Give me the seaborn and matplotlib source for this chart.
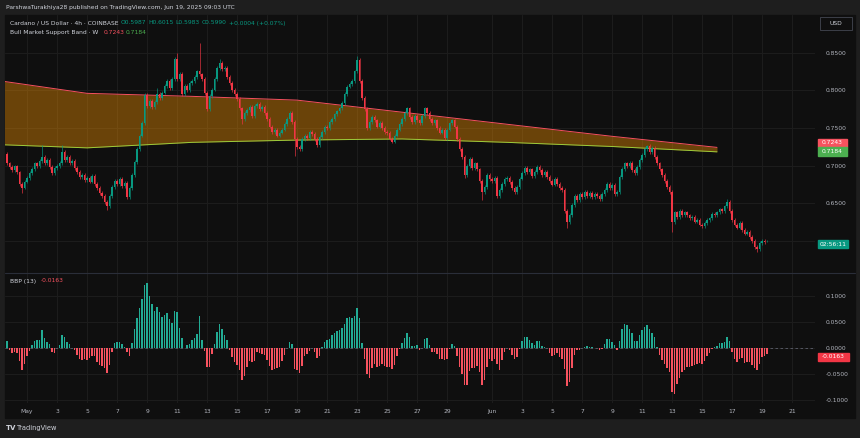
import matplotlib
matplotlib.use("Agg")
import matplotlib.pyplot as plt
import seaborn as sns
import pandas as pd
import numpy as np

# ADA/USD 4h candles (Coinbase), closes, one row per day
first_open = 0.716
closes = [
    0.703, 0.698,                                  # Apr 29 (16h, 20h)
    0.694, 0.699, 0.691, 0.676, 0.671, 0.679,      # Apr 30
    0.684, 0.690, 0.696, 0.703, 0.699, 0.706,      # May 1
    0.712, 0.703, 0.708, 0.698, 0.690, 0.697,
    0.700, 0.704, 0.718, 0.708, 0.712, 0.703,
    0.706, 0.697, 0.692, 0.685, 0.688, 0.681,
    0.684, 0.679, 0.687, 0.676, 0.670, 0.664,      # May 5
    0.660, 0.652, 0.647, 0.660, 0.672, 0.680,
    0.676, 0.682, 0.673, 0.677, 0.658, 0.670,
    0.688, 0.705, 0.722, 0.740, 0.757, 0.794,
    0.779, 0.786, 0.778, 0.784, 0.795, 0.790,
    0.797, 0.806, 0.812, 0.803, 0.815, 0.842,      # May 10
    0.815, 0.822, 0.795, 0.806, 0.800, 0.810,
    0.812, 0.818, 0.825, 0.821, 0.815, 0.796,
    0.775, 0.792, 0.801, 0.815, 0.830, 0.836,
    0.828, 0.830, 0.818, 0.810, 0.800, 0.795,
    0.788, 0.776, 0.762, 0.770, 0.774, 0.778,      # May 15
    0.766, 0.779, 0.782, 0.775, 0.778, 0.770,
    0.762, 0.752, 0.745, 0.748, 0.740, 0.744,
    0.748, 0.755, 0.762, 0.770, 0.758, 0.736,
    0.725, 0.722, 0.735, 0.740, 0.737, 0.745,
    0.742, 0.735, 0.727, 0.738, 0.745, 0.752,      # May 20
    0.750, 0.758, 0.762, 0.768, 0.772, 0.776,
    0.783, 0.795, 0.805, 0.808, 0.812, 0.825,
    0.840, 0.812, 0.790, 0.775, 0.750, 0.758,
    0.765, 0.760, 0.752, 0.757, 0.750, 0.745,
    0.743, 0.736, 0.732, 0.740, 0.748, 0.755,      # May 25
    0.762, 0.770, 0.776, 0.765, 0.758, 0.766,
    0.760, 0.756, 0.766, 0.776, 0.770, 0.762,
    0.756, 0.760, 0.750, 0.744, 0.748, 0.737,
    0.748, 0.756, 0.760, 0.752, 0.735, 0.722,
    0.712, 0.688, 0.700, 0.709, 0.697, 0.703,      # May 30
    0.695, 0.680, 0.665, 0.672, 0.688, 0.682,
    0.680, 0.684, 0.660, 0.668, 0.676, 0.682,      # Jun 1
    0.684, 0.678, 0.670, 0.665, 0.672, 0.683,
    0.690, 0.697, 0.692, 0.695, 0.686, 0.692,
    0.698, 0.694, 0.688, 0.692, 0.685, 0.680,
    0.675, 0.682, 0.676, 0.670, 0.668, 0.640,      # Jun 5
    0.625, 0.635, 0.648, 0.660, 0.655, 0.662,
    0.658, 0.665, 0.660, 0.664, 0.659, 0.662,
    0.660, 0.656, 0.662, 0.668, 0.676, 0.670,
    0.674, 0.662, 0.665, 0.685, 0.696, 0.703,
    0.700, 0.704, 0.694, 0.690, 0.698, 0.708,      # Jun 10
    0.714, 0.722, 0.726, 0.718, 0.724, 0.712,
    0.703, 0.695, 0.688, 0.680, 0.672, 0.665,
    0.625, 0.638, 0.632, 0.640, 0.635, 0.638,
    0.634, 0.630, 0.632, 0.626, 0.628, 0.622,
    0.620, 0.624, 0.628, 0.630, 0.636, 0.634,      # Jun 15
    0.638, 0.642, 0.640, 0.646, 0.652, 0.640,
    0.628, 0.622, 0.618, 0.624, 0.615, 0.610,
    0.612, 0.605, 0.600, 0.592, 0.590, 0.598,
    0.600, 0.5987, 0.5990,                         # Jun 19 (00h-08h)
]

# long wicks that stand out on the chart
wick_highs = {
    "2025-05-02 00:00": 0.727, "2025-05-03 08:00": 0.727,
    "2025-05-09 16:00": 0.803, "2025-05-11 00:00": 0.849,
    "2025-05-12 12:00": 0.863, "2025-05-13 20:00": 0.842,
    "2025-05-23 00:00": 0.845, "2025-06-11 08:00": 0.728,
    "2025-06-16 16:00": 0.656, "2025-06-19 08:00": 0.6015,
}
wick_lows = {
    "2025-04-30 16:00": 0.664, "2025-05-06 08:00": 0.641,
    "2025-05-15 08:00": 0.755, "2025-05-18 20:00": 0.713,
    "2025-05-30 04:00": 0.684, "2025-05-31 08:00": 0.655,
    "2025-06-06 00:00": 0.618, "2025-06-13 00:00": 0.612,
    "2025-06-18 16:00": 0.586, "2025-06-19 08:00": 0.5983,
}

# Bull Market Support Band (weekly), values at each weekly bar
band_dates = ["2025-04-28", "2025-05-05", "2025-05-12", "2025-05-19",
              "2025-05-26", "2025-06-02", "2025-06-09", "2025-06-16"]
band_upper = [0.816, 0.796, 0.792, 0.787, 0.771, 0.755, 0.739, 0.7243]
band_lower = [0.7288, 0.7237, 0.731, 0.734, 0.7355, 0.731, 0.7255, 0.7184]

price_ticks = [0.60, 0.65, 0.70, 0.75, 0.80, 0.85]
bbp_ticks = [0.1, 0.05, 0.0, -0.05, -0.1]
day_ticks = [0, 2, 4, 6, 8, 10, 12, 14, 16, 18, 20, 22, 24, 26, 28,
             31, 33, 35, 37, 39, 41, 43, 45, 47, 49, 51]
day_labels = ["May", "3", "5", "7", "9", "11", "13", "15", "17", "19", "21",
              "23", "25", "27", "29", "Jun", "3", "5", "7", "9", "11", "13",
              "15", "17", "19", "21"]

UP, DOWN = "#089981", "#f23645"
BG, OUTER = "#0f0f0f", "#1e1e1e"
TXT = "#b2b5be"
GRID = "#1d1d1d"

# build the candle table
times = pd.date_range("2025-04-29 16:00", "2025-06-19 08:00", freq="4h")
assert len(times) == len(closes)
t0 = pd.Timestamp("2025-05-01")
df = pd.DataFrame({"time": times, "close": closes})
df["x"] = (df.time - t0) / pd.Timedelta(days=1)
df["open"] = [first_open] + closes[:-1]
df["high"] = np.maximum(df.open, df.close) + 0.0025
df["low"] = np.minimum(df.open, df.close) - 0.0025
for k, v in wick_highs.items():
    df.loc[df.time == pd.Timestamp(k), "high"] = v
for k, v in wick_lows.items():
    df.loc[df.time == pd.Timestamp(k), "low"] = v
df["up"] = df.close >= df.open

# Bull Bear Power (13)
ema = df.close.ewm(span=13, adjust=False).mean()
df["bbp"] = df.high + df.low - 2 * ema

bx = [(pd.Timestamp(d) - t0) / pd.Timedelta(days=1) for d in band_dates]

sns.set_theme(style="dark")
plt.rcParams["font.family"] = ["DejaVu Sans"]

W, H = 860, 438
fig = plt.figure(figsize=(W / 100, H / 100), dpi=100, facecolor=OUTER)


def fx(px):
    return px / W


def fy(py):
    return 1 - py / H


# dark chart panel behind everything
fig.patches.append(plt.Rectangle((fx(5), fy(418)), fx(855) - fx(5), fy(15) - fy(418),
                                 transform=fig.transFigure, color=BG, zorder=-10))

ax = fig.add_axes([fx(5), fy(273), fx(815) - fx(5), fy(15) - fy(273)])
axb = fig.add_axes([fx(5), fy(403), fx(815) - fx(5), fy(273) - fy(403)], sharex=ax)

for a in (ax, axb):
    a.set_facecolor(BG)
    for s in a.spines.values():
        s.set_visible(False)
    a.set_xlim(-1.4667, 52.533)
    for d in day_ticks:
        a.axvline(d, color=GRID, lw=0.7, zorder=0)

ax.set_ylim(0.5577, 0.8999)
for p in price_ticks:
    ax.axhline(p, color=GRID, lw=0.7, zorder=0)

# band
ax.fill_between(bx, band_lower, band_upper, color="#ff9800", alpha=0.38, lw=0, zorder=1)
sns.lineplot(x=bx, y=band_upper, ax=ax, color="#f7525f", lw=0.7, zorder=2)
sns.lineplot(x=bx, y=band_lower, ax=ax, color="#9ccc3c", lw=0.7, zorder=2)

# candles
colors = np.where(df.up, UP, DOWN)
ax.vlines(df.x, df.low, df.high, colors=colors, lw=0.45, zorder=3)
body = (df.close - df.open).where((df.close - df.open).abs() > 0.0006, 0.0006)
ax.bar(df.x, body, bottom=df.open, width=0.115, color=colors, lw=0, zorder=4)

ax.yaxis.tick_right()
ax.set_yticks(price_ticks[1:])
ax.set_yticklabels([f"{p:.4f}" for p in price_ticks[1:]])
ax.tick_params(axis="y", length=0, pad=8, labelsize=4.3, labelcolor=TXT)
ax.tick_params(axis="x", length=0, labelbottom=False)
ax.set_xlabel("")
ax.set_ylabel("")

# BBP pane
axb.set_ylim(-0.1058, 0.1442)
for v in bbp_ticks:
    axb.axhline(v, color=GRID, lw=0.7, zorder=0)
axb.axhline(0, color="#5d606b", lw=0.6, ls=(0, (3, 3)), zorder=1)
bcol = np.where(df.bbp >= 0, "#22ab94", "#f7525f")
axb.bar(df.x, df.bbp, width=0.125, color=bcol, lw=0, zorder=2)
axb.yaxis.tick_right()
axb.set_yticks(bbp_ticks)
axb.set_yticklabels([f"{v:.4f}" for v in bbp_ticks])
axb.tick_params(axis="y", length=0, pad=8, labelsize=4.3, labelcolor=TXT)
axb.set_xticks(day_ticks)
axb.set_xticklabels(day_labels)
axb.tick_params(axis="x", length=0, pad=4, labelsize=4.3, labelcolor=TXT)

# pane separator
fig.add_artist(plt.Line2D([fx(5), fx(855)], [fy(273), fy(273)], color="#2a2e39", lw=0.8))

# header texts
fs = 4.3
fig.text(fx(6), fy(7.5), "ParshwaTurakhiya28 published on TradingView.com, Jun 19, 2025 09:03 UTC",
         color="#d1d4dc", fontsize=fs, va="center")
fig.text(fx(10), fy(23), "Cardano / US Dollar · 4h · COINBASE", color="#d1d4dc", fontsize=fs, va="center")
for xp, s in [(121, "O0.5987"), (148, "H0.6015"), (175, "L0.5983"), (202, "C0.5990"),
              (229, "+0.0004 (+0.07%)")]:
    fig.text(fx(xp), fy(23), s, color=UP, fontsize=fs, va="center")
fig.text(fx(10), fy(32.5), "Bull Market Support Band · W", color="#d1d4dc", fontsize=fs, va="center")
fig.text(fx(104), fy(32.5), "0.7243", color="#f7525f", fontsize=fs, va="center")
fig.text(fx(126), fy(32.5), "0.7184", color="#4caf50", fontsize=fs, va="center")
fig.text(fx(10), fy(281), "BBP (13)", color="#d1d4dc", fontsize=fs, va="center")
fig.text(fx(41), fy(281), "-0.0163", color="#f7525f", fontsize=fs, va="center")


# right-scale tags
def tag(py, s, fc, x0=818, w=29, h=8.5):
    fig.patches.append(plt.Rectangle((fx(x0), fy(py + h / 2)), w / W, h / H,
                                     transform=fig.transFigure, color=fc, zorder=5))
    fig.text(fx(x0 + w / 2), fy(py), s, color="white", fontsize=fs, ha="center",
             va="center", zorder=6)


tag(143, "0.7243", "#f7525f")
tag(151.5, "0.7184", "#4caf50")
tag(244, "02:56:11", UP, w=30)
tag(357, "-0.0163", DOWN, w=31)

fig.patches.append(plt.Rectangle((fx(820), fy(30)), 32 / W, 13 / H, transform=fig.transFigure,
                                 fill=False, ec="#434651", lw=0.6, zorder=5))
fig.text(fx(836), fy(23.5), "USD", color="#d1d4dc", fontsize=fs, ha="center", va="center")

# footer
fig.text(fx(6), fy(428), "TV", color="#d1d4dc", fontsize=5, fontweight="bold", va="center")
fig.text(fx(17), fy(428), "TradingView", color="#d1d4dc", fontsize=4.8, va="center")

fig.savefig("out.png", dpi=100, facecolor=OUTER)
